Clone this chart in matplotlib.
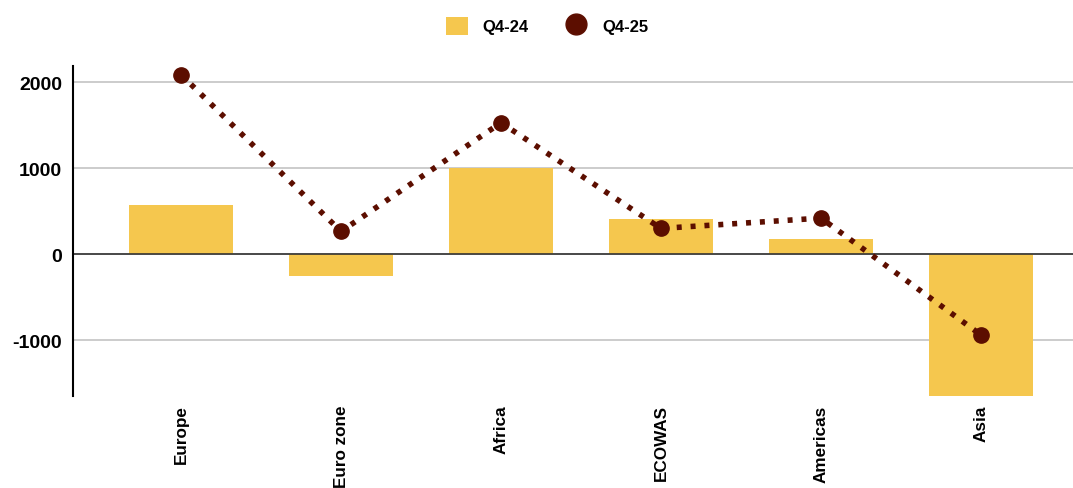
import matplotlib
matplotlib.use("Agg")
import matplotlib.pyplot as plt
from matplotlib.lines import Line2D
from matplotlib.patches import Patch

regions = ["Europe", "Euro zone", "Africa", "ECOWAS", "Americas", "Asia"]
q4_24 = [570, -250, 1000, 410, 180, -1660]
q4_25 = [2090, 265, 1530, 300, 420, -940]
yticks = [-1000, 0, 1000, 2000]

bar_color = "#F5C74E"
dot_color = "#5C0E00"

W, H = 1073, 489
fig = plt.figure(figsize=(W / 100, H / 100), dpi=100)
ax = fig.add_axes([73 / W, (H - 397) / H, 1 - 73 / W, (397 - 67) / H])

x = list(range(len(regions)))
ax.bar(x, q4_24, width=0.645, color=bar_color, zorder=2)
ax.plot(x, q4_25, color=dot_color, linewidth=4, linestyle=(0, (0.9, 1.6)),
        zorder=3, dash_capstyle="butt")
ax.plot(x, q4_25, linestyle="none", marker="o", markersize=11,
        color=dot_color, zorder=4)

ax.set_xlim(-0.675, 5.575)
ax.set_ylim(-1650, 2190)
ax.set_yticks(yticks)
ax.set_yticklabels([str(v) for v in yticks], fontsize=14, fontweight="bold",
                   family="Liberation Sans")
ax.yaxis.grid(True, color="#cccccc", linewidth=1.4, zorder=0)
ax.axhline(0, color="#333333", linewidth=1.2, zorder=2.5)
ax.set_axisbelow(True)

ax.set_xticks(x)
ax.set_xticklabels(regions, rotation=90, fontsize=12.3, fontweight="bold",
                   family="Liberation Sans", va="top", ha="center")
ax.tick_params(axis="both", length=0)
ax.tick_params(axis="x", pad=6)
ax.tick_params(axis="y", pad=8)

for s in ["top", "right", "bottom"]:
    ax.spines[s].set_visible(False)
ax.spines["left"].set_color("black")
ax.spines["left"].set_linewidth(1.5)

handles = [
    Patch(facecolor=bar_color, edgecolor="none", label="Q4-24"),
    Line2D([], [], linestyle="none", marker="o", markersize=15,
           color=dot_color, label="Q4-25"),
]
fig.legend(handles=handles, loc="center", bbox_to_anchor=(0.51, 0.945),
           ncol=2, frameon=False, handlelength=1.3, handleheight=1.3,
           columnspacing=2.2, handletextpad=0.9,
           prop={"family": "Liberation Sans", "weight": "bold", "size": 12})

fig.savefig("out.png", dpi=100)
